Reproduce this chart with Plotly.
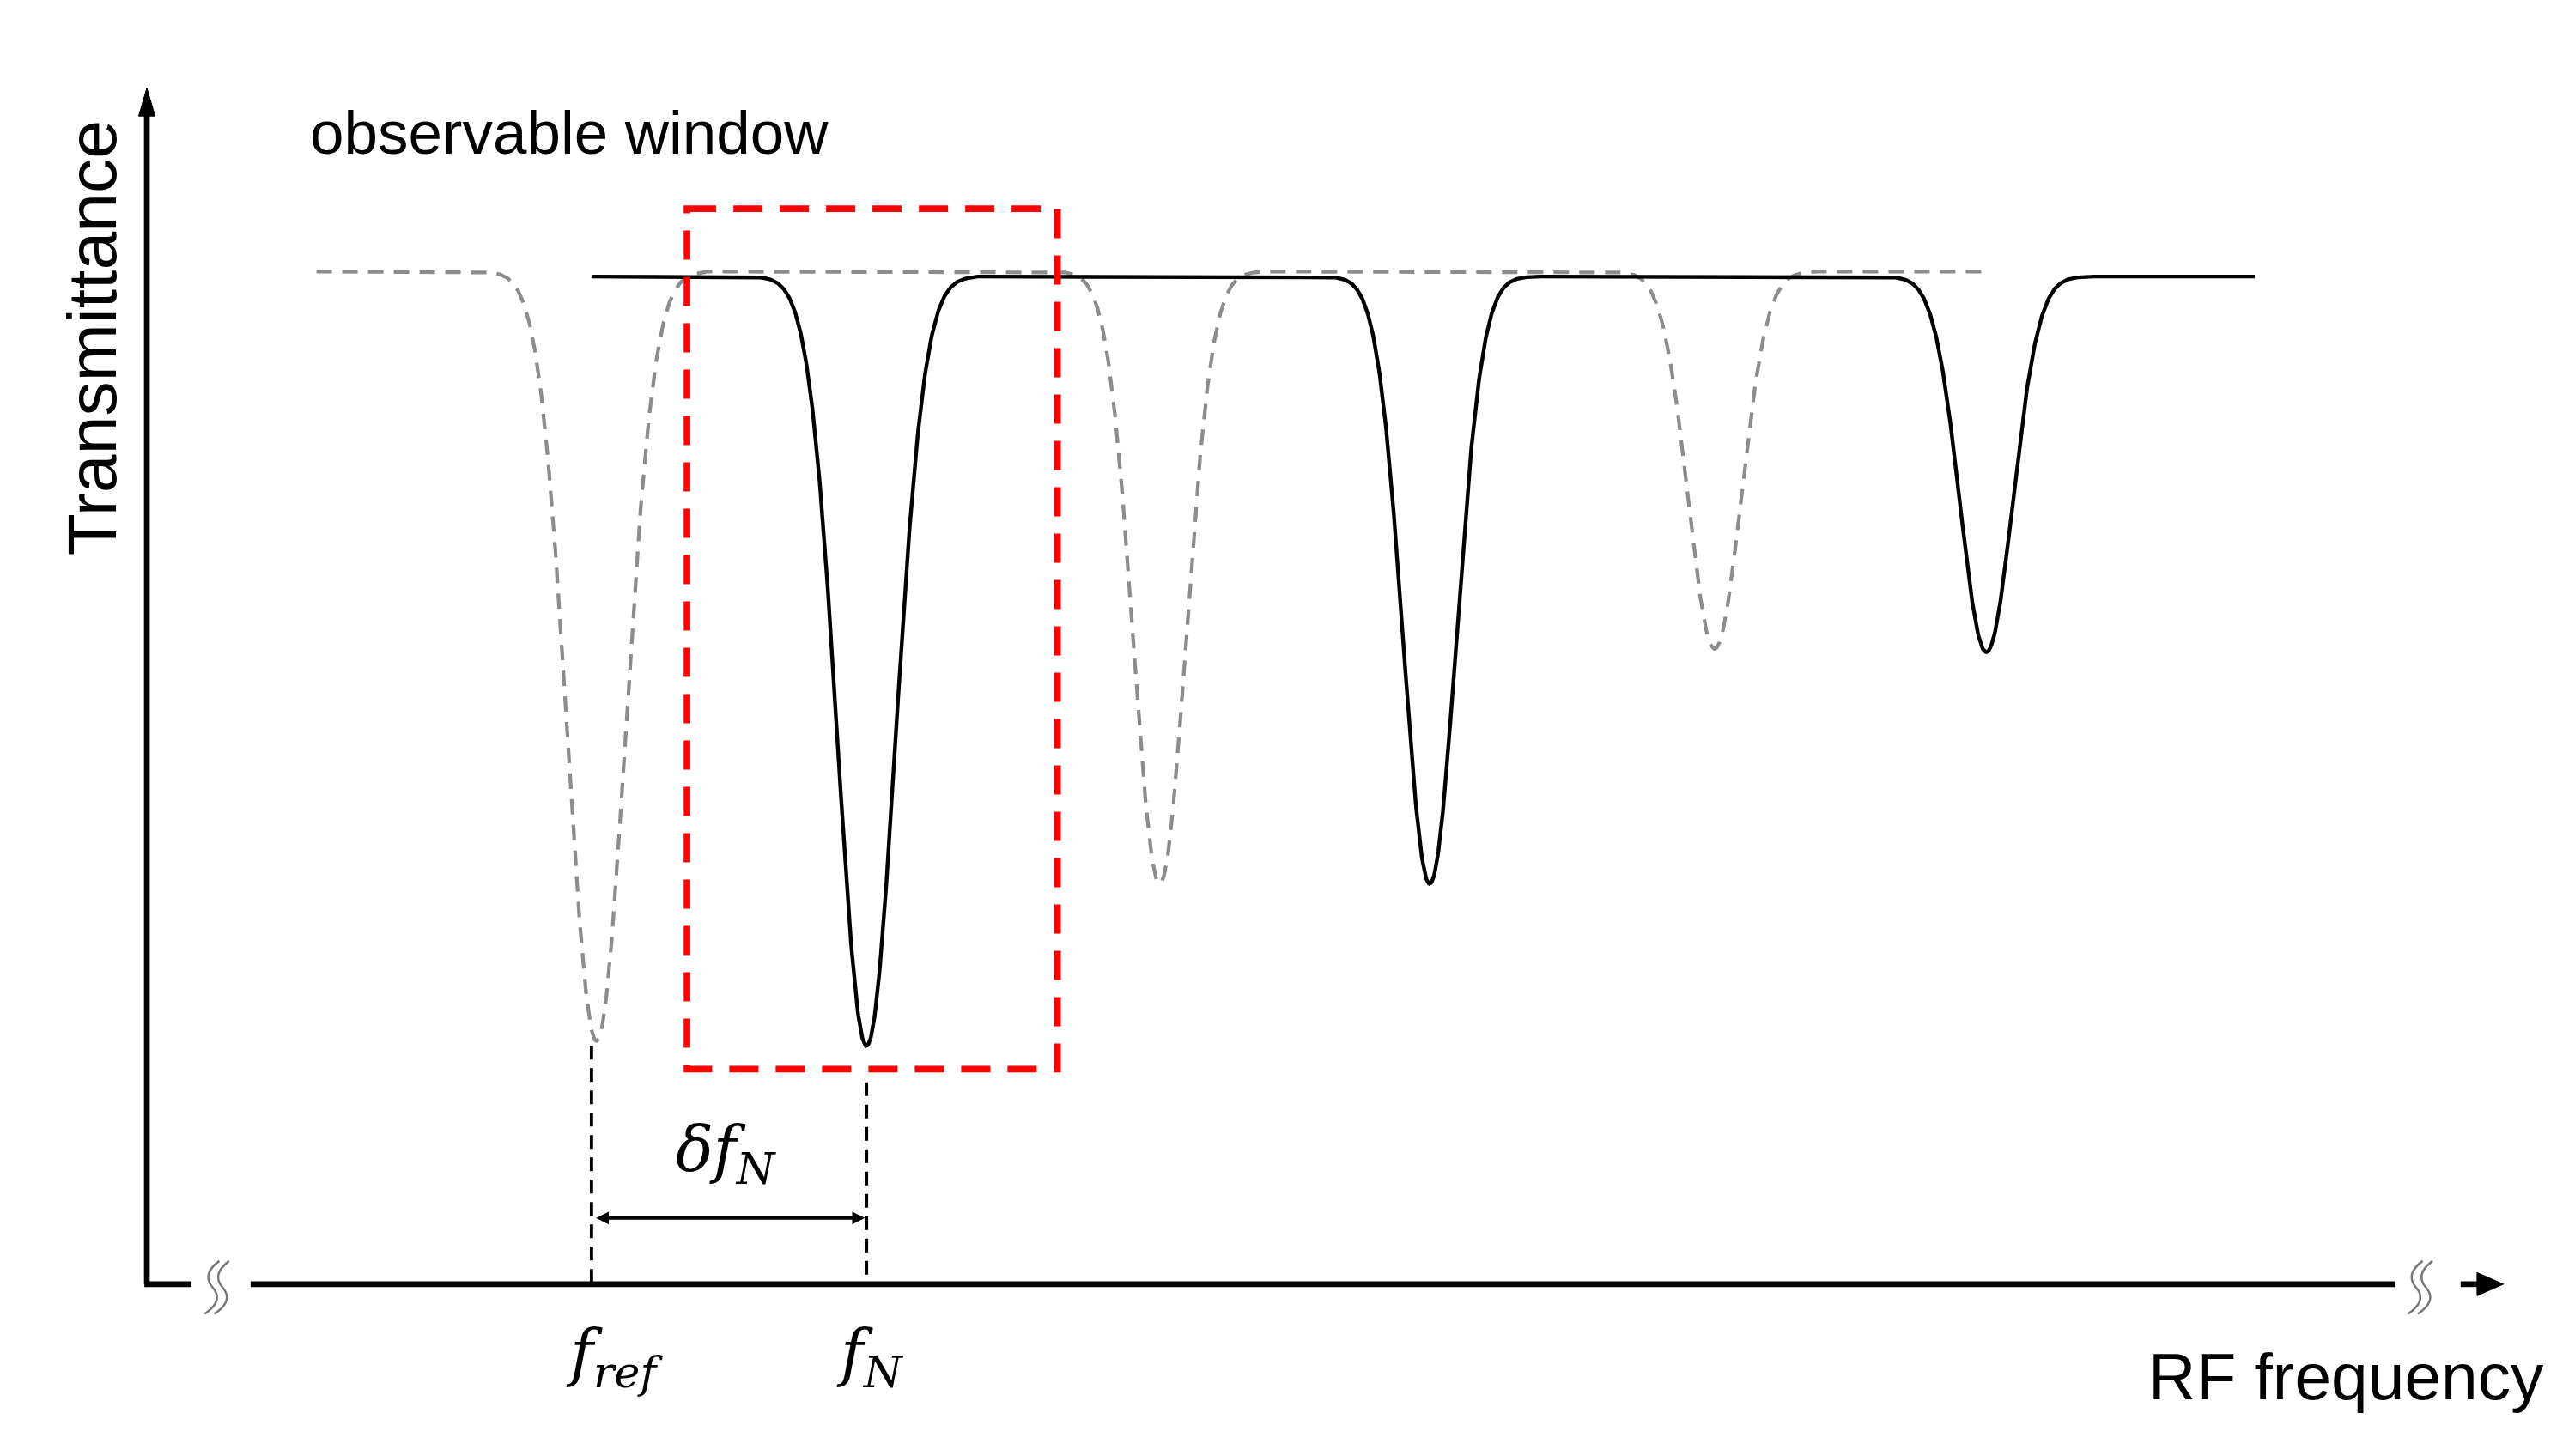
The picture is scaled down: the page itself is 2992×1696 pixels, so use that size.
import numpy as np
import plotly.graph_objects as go

# picture coordinates (x right, y down)
W, H = 1560, 880
S = 2992 / W  # pixel scale for line widths / fonts

black_centers = [522, 864, 1202]
black_bottoms = [628, 530, 390]
black_halfw = [55, 50, 50]
black_base = 163
black_span = [355, 1365]

gray_centers = [358, 700, 1037]
gray_bottoms = [625, 530, 388]
gray_halfw = [55, 50, 50]
gray_base = 160
gray_span = [188, 1200]

window_box = [413, 638, 122, 642]  # x0, x1, y0, y1
f_ref_x, f_n_x = 355, 522
axis_y, axis_x = 772, 85


def spectrum(span, base, centers, bottoms, halfw):
    xs = np.linspace(span[0], span[1], 3000)
    ys = np.full_like(xs, base, dtype=float)
    for c, b, hw in zip(centers, bottoms, halfw):
        u = (xs - c) / hw
        prof = np.exp(-(u / 0.45) ** 2) * (np.abs(u) < 1.2)
        ys = ys + prof * (b - base)
    return xs, ys


fig = go.Figure()
gx, gy = spectrum(gray_span, gray_base, gray_centers, gray_bottoms, gray_halfw)
fig.add_trace(go.Scatter(x=gx, y=gy, mode="lines",
                         line=dict(color="#8c8c8c", width=2.2 * S, dash="18px,12px")))
bx, by = spectrum(black_span, black_base, black_centers, black_bottoms, black_halfw)
fig.add_trace(go.Scatter(x=bx, y=by, mode="lines",
                         line=dict(color="black", width=2.3 * S)))

shapes = []
aw = 3.5 * S
# axes
shapes.append(dict(type="line", x0=axis_x, x1=axis_x, y0=axis_y, y1=62,
                   line=dict(color="black", width=aw)))
shapes.append(dict(type="line", x0=axis_x - 1.5, x1=112, y0=axis_y, y1=axis_y,
                   line=dict(color="black", width=aw)))
shapes.append(dict(type="line", x0=148, x1=1450, y0=axis_y, y1=axis_y,
                   line=dict(color="black", width=aw)))
shapes.append(dict(type="line", x0=1490, x1=1502, y0=axis_y, y1=axis_y,
                   line=dict(color="black", width=aw)))
shapes.append(dict(type="path", path="M 1500 765 L 1516 772 L 1500 779 Z",
                   fillcolor="black", line=dict(color="black", width=1)))
shapes.append(dict(type="path", path=f"M {axis_x-5} 66 L {axis_x} 49 L {axis_x+5} 66 Z",
                   fillcolor="black", line=dict(color="black", width=1)))
# axis break symbols
for bxs in (124, 1462):
    for off in (0, 6):
        x0 = bxs + off
        shapes.append(dict(type="path",
                           path=f"M {x0+5} 758 Q {x0-6} 766 {x0+1} 774 Q {x0+8} 782 {x0-4} 790",
                           line=dict(color="#777777", width=1.3 * S)))
# window box
x0, x1, y0, y1 = window_box
shapes.append(dict(type="rect", x0=x0, x1=x1, y0=y0, y1=y1,
                   line=dict(color="#ff0000", width=4 * S, dash="34px,20px")))
# frequency markers
for fx, fy in ((f_ref_x, 628), (f_n_x, 650)):
    shapes.append(dict(type="line", x0=fx, x1=fx, y0=fy, y1=axis_y,
                       line=dict(color="black", width=2 * S, dash="16px,10px")))
fig.update_layout(shapes=shapes)

fig.add_annotation(x=f_n_x - 1, y=732, ax=f_ref_x + 2, ay=732, xref="x", yref="y",
                   axref="x", ayref="y", showarrow=True, arrowhead=2, arrowside="end+start",
                   arrowsize=0.7, arrowwidth=2.2 * S, arrowcolor="black", text="")

sans = "Liberation Sans, Arial, sans-serif"
serif = "DejaVu Serif, Liberation Serif, serif"
fig.add_annotation(x=183, y=76, text="observable window", showarrow=False, xanchor="left",
                   font=dict(family=sans, size=37 * S, color="black"))
fig.add_annotation(x=52, y=200, text="Transmittance", showarrow=False, textangle=-90,
                   font=dict(family=sans, size=42 * S, color="black"))
fig.add_annotation(x=1542, y=828, text="RF frequency", showarrow=False, xanchor="right",
                   font=dict(family=sans, size=40 * S, color="black"))
fig.add_annotation(x=369, y=816, text="<i>f</i><sub><i>ref</i></sub>", showarrow=False,
                   font=dict(family=serif, size=38 * S, color="black"))
fig.add_annotation(x=524, y=816, text="<i>f</i><sub><i>N</i></sub>", showarrow=False,
                   font=dict(family=serif, size=38 * S, color="black"))
fig.add_annotation(x=437, y=693, text="<i>δf</i><sub><i>N</i></sub>", showarrow=False,
                   font=dict(family=serif, size=38 * S, color="black"))

fig.update_xaxes(range=[0, W], visible=False, fixedrange=True)
fig.update_yaxes(range=[H, 0], visible=False, fixedrange=True)
fig.update_layout(width=2992, height=1696, margin=dict(l=0, r=0, t=0, b=0),
                  plot_bgcolor="white", paper_bgcolor="white", showlegend=False)
fig.write_html("out.html")
